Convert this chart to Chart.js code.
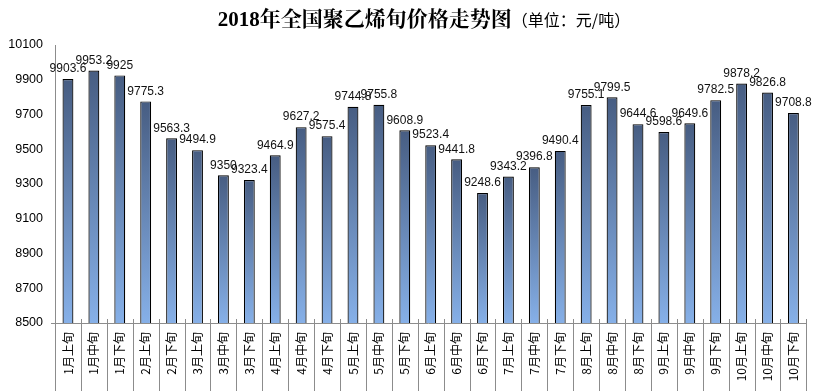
<!DOCTYPE html>
<html>
<head>
<meta charset="utf-8">
<script src="https://cdn.jsdelivr.net/npm/chart.js@4"></script>
<style>
  html, body { margin: 0; padding: 0; background: #fff; }
  #wrap { width: 817px; height: 391px; position: relative; }
</style>
</head>
<body>
<div id="wrap"><canvas id="chart"></canvas></div>
<script>
const categories = [
  '1月上旬', '1月中旬', '1月下旬', '2月上旬', '2月下旬', '3月上旬', '3月中旬', '3月下旬',
  '4月上旬', '4月中旬', '4月下旬', '5月上旬', '5月中旬', '5月下旬', '6月上旬', '6月中旬',
  '6月下旬', '7月上旬', '7月中旬', '7月下旬', '8月上旬', '8月中旬', '8月下旬', '9月上旬',
  '9月中旬', '9月下旬', '10月上旬', '10月中旬', '10月下旬'
];
const prices = [
  9903.6, 9953.2, 9925, 9775.3, 9563.3, 9494.9, 9350, 9323.4,
  9464.9, 9627.2, 9575.4, 9744.8, 9755.8, 9608.9, 9523.4, 9441.8,
  9248.6, 9343.2, 9396.8, 9490.4, 9755.1, 9799.5, 9644.6, 9598.6,
  9649.6, 9782.5, 9878.2, 9826.8, 9708.8
];
const yTicks = [8500, 8700, 8900, 9100, 9300, 9500, 9700, 9900, 10100];

const titleMain = '2018年全国聚乙烯旬价格走势图';
const titleUnit = '（单位：元/吨）';

// vertical gradient per bar, dark at top
const barFill = (ctx) => {
  const chart = ctx.chart;
  const area = chart.chartArea;
  if (!area || !chart.scales.y) return '#6a8cc0';
  const top = chart.scales.y.getPixelForValue(prices[ctx.dataIndex]);
  const g = chart.ctx.createLinearGradient(0, top, 0, area.bottom);
  g.addColorStop(0, '#475d82');
  g.addColorStop(1, '#86b0e8');
  return g;
};

const decor = {
  id: 'decor',
  afterDraw(chart) {
    const c = chart.ctx;
    const area = chart.chartArea;
    c.save();
    // title
    c.textBaseline = 'alphabetic';
    const f1 = 'bold 21px "Liberation Serif", "Noto Serif CJK SC", "Noto Sans CJK SC", serif';
    const f2 = '16px "Noto Sans CJK SC", sans-serif';
    c.font = f1;
    const w1 = c.measureText(titleMain).width;
    c.font = f2;
    const w2 = c.measureText(titleUnit).width;
    const tx = 424 - (w1 + w2) / 2;
    c.fillStyle = '#000';
    c.font = f1;
    c.fillText(titleMain, tx, 26);
    c.font = f2;
    c.fillText(titleUnit, tx + w1, 26);

    // category separators below axis and small ticks above
    c.strokeStyle = '#8c8c8c';
    c.lineWidth = 1;
    const step = (area.right - area.left) / categories.length;
    for (let i = 0; i <= categories.length; i++) {
      const px = Math.round(area.left + i * step) + 0.5;
      c.beginPath();
      c.moveTo(px, area.bottom - (i === 0 ? 0 : 4));
      c.lineTo(px, chart.height);
      c.stroke();
    }
    c.beginPath();
    c.moveTo(area.left - 4, Math.round(area.bottom) + 0.5);
    c.lineTo(area.right, Math.round(area.bottom) + 0.5);
    c.stroke();

    // value labels
    c.fillStyle = '#111';
    c.font = '12px "Liberation Sans", sans-serif';
    c.textAlign = 'center';
    c.textBaseline = 'bottom';
    const meta = chart.getDatasetMeta(0);
    meta.data.forEach((bar, i) => {
      c.fillText(String(prices[i]), bar.x, bar.y - 4);
    });
    c.restore();
  }
};

new Chart(document.getElementById('chart'), {
  type: 'bar',
  data: {
    labels: categories,
    datasets: [{
      data: prices,
      backgroundColor: barFill,
      borderColor: '#000',
      borderWidth: 1.2,
      borderSkipped: 'bottom',
      barPercentage: 0.42,
      categoryPercentage: 1
    }]
  },
  options: {
    responsive: true,
    maintainAspectRatio: false,
    animation: false,
    layout: { padding: { top: 45, right: 9, left: 0, bottom: 0 } },
    plugins: {
      legend: { display: false },
      tooltip: { enabled: false }
    },
    scales: {
      x: {
        grid: { display: false, drawTicks: false },
        border: { display: false },
        ticks: {
          minRotation: 90,
          maxRotation: 90,
          autoSkip: false,
          padding: 9,
          color: '#000',
          font: { size: 12, family: '"Noto Sans CJK SC", sans-serif' }
        },
        afterFit(scale) { scale.height = 68; }
      },
      y: {
        min: 8500,
        max: 10100,
        afterBuildTicks(scale) { scale.ticks = yTicks.map(v => ({ value: v })); },
        grid: { display: false, drawTicks: true, tickLength: 5 },
        border: { display: true, color: '#8c8c8c', width: 1 },
        ticks: {
          color: '#000',
          padding: 7,
          callback: (v) => String(v),
          font: { size: 12.5, family: '"Liberation Sans", sans-serif' }
        },
        afterFit(scale) { scale.width = 55; }
      }
    }
  },
  plugins: [decor]
});
</script>
</body>
</html>
